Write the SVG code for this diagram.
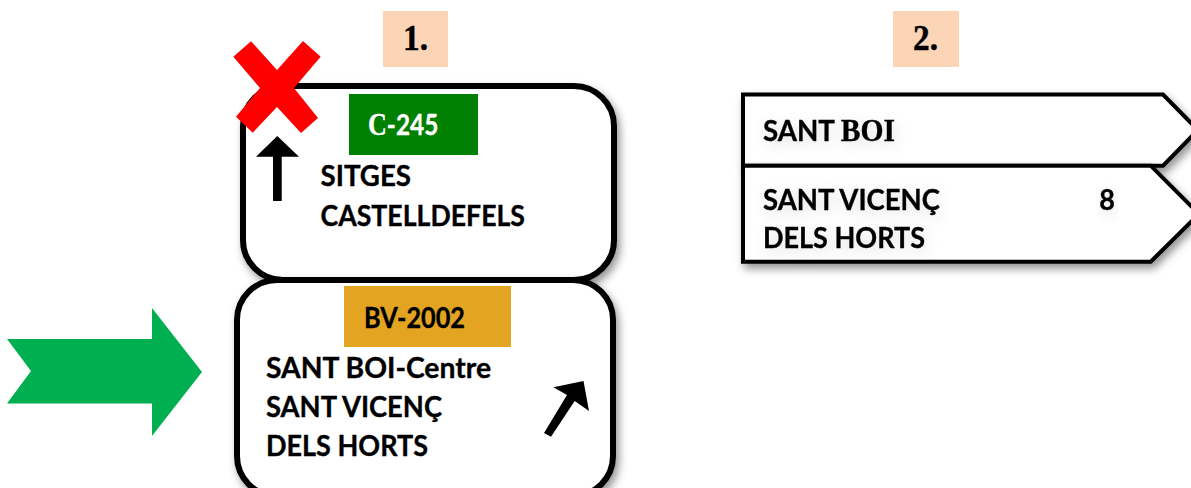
<svg xmlns="http://www.w3.org/2000/svg" width="1191" height="488" viewBox="0 0 1191 488">
<style>
.t{font-family:Lato,"Noto Sans",sans-serif;font-weight:700;font-size:29px;fill:#000;stroke:#000;stroke-width:.35}
.w{fill:#fff;stroke:#fff}
.b{font-family:"Liberation Serif",serif;font-size:31px}
.s{font-family:"Liberation Serif",serif;font-weight:700;font-size:35px;fill:#000;stroke:#000;stroke-width:.4}
.sign{fill:#fff;stroke:#000;stroke-width:6;filter:url(#sh)}
.plate{fill:#fff;stroke:#000;stroke-width:4;filter:url(#sh)}
.lab{fill:#FBD5B5}
.soft{filter:url(#ts)}
</style>
<defs>
<filter id="sh" x="-10%" y="-10%" width="125%" height="130%"><feDropShadow dx="3" dy="5" stdDeviation="4" flood-color="#000" flood-opacity="0.42"/></filter>
<filter id="ts" x="-20%" y="-50%" width="140%" height="220%"><feDropShadow dx="2" dy="4" stdDeviation="7" flood-color="#000" flood-opacity="0.12"/></filter>
</defs>
<rect width="1191" height="488" fill="#fff"/>
<g id="label-1"><rect class="lab" x="383" y="11" width="65" height="56"/><text class="s" x="403" y="50" textLength="25" lengthAdjust="spacingAndGlyphs">1.</text></g>
<g id="label-2"><rect class="lab" x="893" y="11" width="66" height="56"/><text class="s" x="913" y="50" textLength="25" lengthAdjust="spacingAndGlyphs">2.</text></g>
<g id="sign-top">
<rect class="sign" x="243" y="86" width="371" height="194" rx="40"/>
<rect x="349" y="94" width="129" height="61" fill="#008000"/>
<text class="t w" transform="translate(368 135) scale(.84 1)"><tspan class="b">C</tspan>-245</text>
<text class="t" x="320.500" y="186" textLength="90.500" lengthAdjust="spacingAndGlyphs">SITGES</text>
<text class="t" x="320.500" y="225.500" textLength="204.500" lengthAdjust="spacingAndGlyphs">CASTELLDEFELS</text>
<polygon id="arrow-up" points="277.300,136 299,156.700 281.700,156.700 281.700,201 273,201 273,156.700 256,156.700" fill="#000"/>
</g>
<g id="sign-bottom">
<rect class="sign" x="237" y="280" width="376" height="216" rx="40"/>
<rect x="344" y="286" width="167" height="61" fill="#E3A421"/>
<text class="t" x="364" y="327.500" textLength="101" lengthAdjust="spacingAndGlyphs">BV-2002</text>
<text class="t" x="266" y="377.500" textLength="225" lengthAdjust="spacingAndGlyphs">SANT BOI-Centre</text>
<text class="t" x="266" y="417" textLength="176" lengthAdjust="spacingAndGlyphs">SANT VICENÇ</text>
<text class="t" x="266" y="456" textLength="162" lengthAdjust="spacingAndGlyphs">DELS HORTS</text>
<polygon id="arrow-diag" points="583.500,381 589,411 574.700,401 551,436.700 544,433 567,395 553.400,387.300" fill="#000"/>
</g>
<g id="cross"><polygon points="251,41.300 277,70 303,41 320.700,56.700 294,88 318,118 301,133 277,107 252.700,132.700 236,116.700 260,88 233.300,56.700" fill="#f00"/></g>
<g id="green-arrow"><polygon points="7,339 152,339 152,308 202,372 152,436 152,403.600 7,403.600 31,371" fill="#00B050"/></g>
<g id="plate-sant-boi">
<polygon class="plate" points="743,94.500 1163,94.500 1198,130 1163,165.700 743,165.700"/>
<text class="t soft" x="763" y="141" textLength="132" lengthAdjust="spacingAndGlyphs">SANT <tspan class="b">BOI</tspan></text>
</g>
<g id="plate-sant-vicenc">
<polygon class="plate" points="743,165.700 1150.700,165.700 1199,214 1150.700,261.700 743,261.700"/>
<text class="t soft" x="763" y="209.500" textLength="177" lengthAdjust="spacingAndGlyphs">SANT VICENÇ</text>
<text class="t soft" x="1099.300" y="209.500" textLength="15.700" lengthAdjust="spacingAndGlyphs">8</text>
<text class="t soft" x="763" y="248" textLength="162" lengthAdjust="spacingAndGlyphs">DELS HORTS</text>
</g>
<g id="connectors"/>
</svg>
